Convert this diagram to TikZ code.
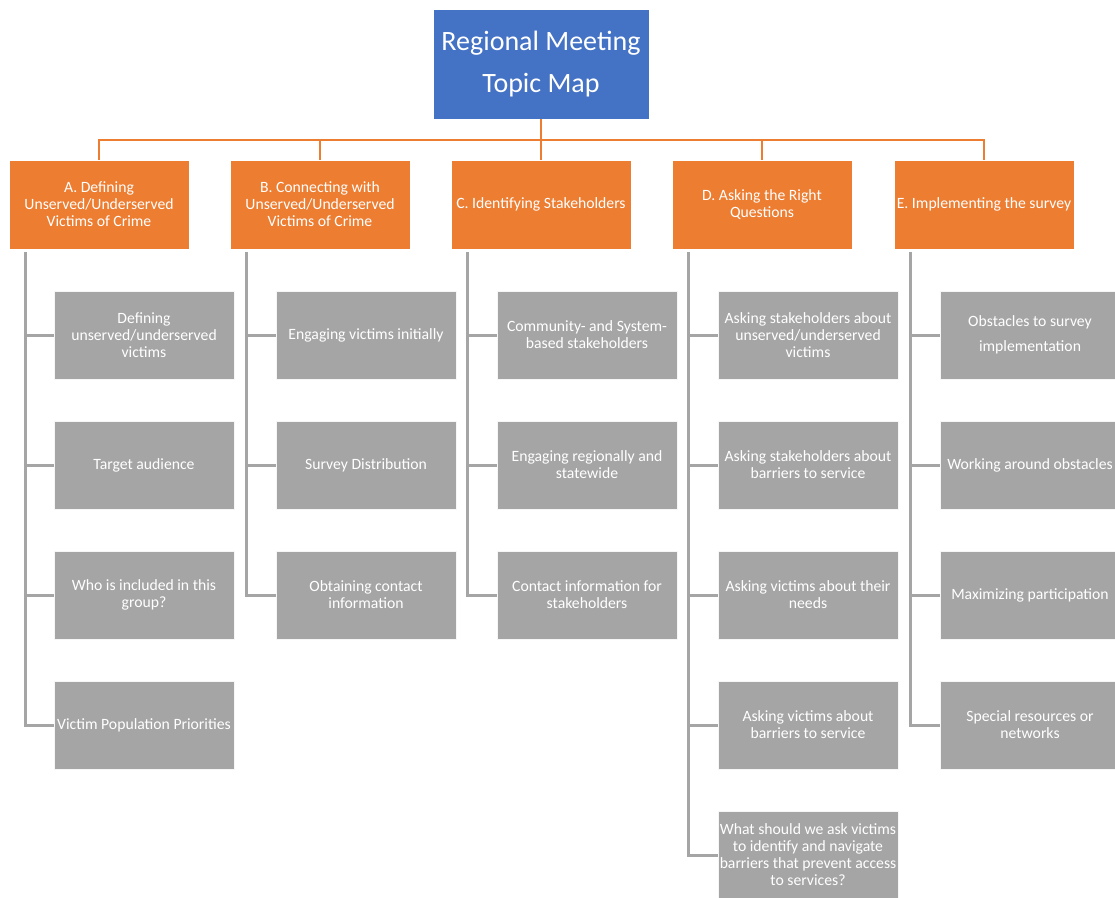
\documentclass[tikz,border=0pt]{standalone}
\usepackage{fontspec}
\setmainfont{Carlito}
\usetikzlibrary{calc}
\definecolor{tblue}{HTML}{4472C4}
\definecolor{torange}{HTML}{ED7D31}
\definecolor{tgray}{HTML}{A5A5A5}
\begin{document}
\begin{tikzpicture}[x=1pt,y=-1pt,
  titlebox/.style={fill=tblue, draw=white, line width=0.5pt, minimum width=216pt, minimum height=110pt, inner sep=0pt, text=white, font=\fontsize{28}{42}\selectfont, align=center},
  topic/.style={fill=torange, draw=white, line width=0.5pt, minimum width=180pt, minimum height=89pt, inner sep=0pt, text=white, font=\fontsize{15.7}{17}\selectfont, align=center},
  sub/.style={fill=tgray, draw=white!90!tgray, line width=0.75pt, minimum width=180pt, minimum height=88pt, inner sep=0pt, text=white, font=\fontsize{15.7}{17}\selectfont, align=center},
  oline/.style={draw=torange, line width=2pt},
  gline/.style={draw=tgray, line width=3pt}]
\useasboundingbox (0,0) rectangle (1115,897);

\node[titlebox] (T) at (541,64) {Regional Meeting\\Topic Map};

\node[topic] (A) at (99,204.5) {A. Defining\\Unserved/Underserved\\Victims of Crime};
\node[topic] (B) at (320,204.5) {B. Connecting with\\Unserved/Underserved\\Victims of Crime};
\node[topic] (C) at (541,204.5) {C. Identifying Stakeholders};
\node[topic] (D) at (762,204.5) {D. Asking the Right\\Questions};
\node[topic] (E) at (984,204.5) {E. Implementing the survey};

\coordinate (bus) at (541,140);
\draw[oline] (T.south) -- (bus);
\draw[oline] (A.north) |- (bus) -| (E.north);
\draw[oline] (B.north) -- (B.north |- bus);
\draw[oline] (C.north) -- (bus);
\draw[oline] (D.north) -- (D.north |- bus);

% column A
\node[sub] (A1) at (144,335) {Defining\\unserved/underserved\\victims};
\node[sub] (A2) at (144,465) {Target audience};
\node[sub] (A3) at (144,595) {Who is included in this\\group?};
\node[sub] (A4) at (144,725) {Victim Population Priorities};
% column B
\node[sub] (B1) at (366,335) {Engaging victims initially};
\node[sub] (B2) at (366,465) {Survey Distribution};
\node[sub] (B3) at (366,595) {Obtaining contact\\information};
% column C
\node[sub] (C1) at (587,335) {Community- and System-\\based stakeholders};
\node[sub] (C2) at (587,465) {Engaging regionally and\\statewide};
\node[sub] (C3) at (587,595) {Contact information for\\stakeholders};
% column D
\node[sub] (D1) at (808,335) {Asking stakeholders about\\unserved/underserved\\victims};
\node[sub] (D2) at (808,465) {Asking stakeholders about\\barriers to service};
\node[sub] (D3) at (808,595) {Asking victims about their\\needs};
\node[sub] (D4) at (808,725) {Asking victims about\\barriers to service};
\node[sub] (D5) at (808,855) {What should we ask victims\\to identify and navigate\\barriers that prevent access\\to services?};
% column E
\node[sub, font=\fontsize{15.7}{25}\selectfont] (E1) at (1030,335) {Obstacles to survey\\implementation};
\node[sub] (E2) at (1030,465) {Working around obstacles};
\node[sub] (E3) at (1030,595) {Maximizing participation};
\node[sub] (E4) at (1030,725) {Special resources or\\networks};

% gray connectors
\coordinate (a0) at ($(A.south west)+(16.5,3)$);
\draw[gline] (a0) |- (A4.west);
\foreach \n in {A1,A2,A3} \draw[gline] (a0 |- \n.west) -- (\n.west);
\coordinate (b0) at ($(B.south west)+(16.5,3)$);
\draw[gline] (b0) |- (B3.west);
\foreach \n in {B1,B2} \draw[gline] (b0 |- \n.west) -- (\n.west);
\coordinate (c0) at ($(C.south west)+(16.5,3)$);
\draw[gline] (c0) |- (C3.west);
\foreach \n in {C1,C2} \draw[gline] (c0 |- \n.west) -- (\n.west);
\coordinate (d0) at ($(D.south west)+(16.5,3)$);
\draw[gline] (d0) |- (D5.west);
\foreach \n in {D1,D2,D3,D4} \draw[gline] (d0 |- \n.west) -- (\n.west);
\coordinate (e0) at ($(E.south west)+(16.5,3)$);
\draw[gline] (e0) |- (E4.west);
\foreach \n in {E1,E2,E3} \draw[gline] (e0 |- \n.west) -- (\n.west);
\end{tikzpicture}
\end{document}
